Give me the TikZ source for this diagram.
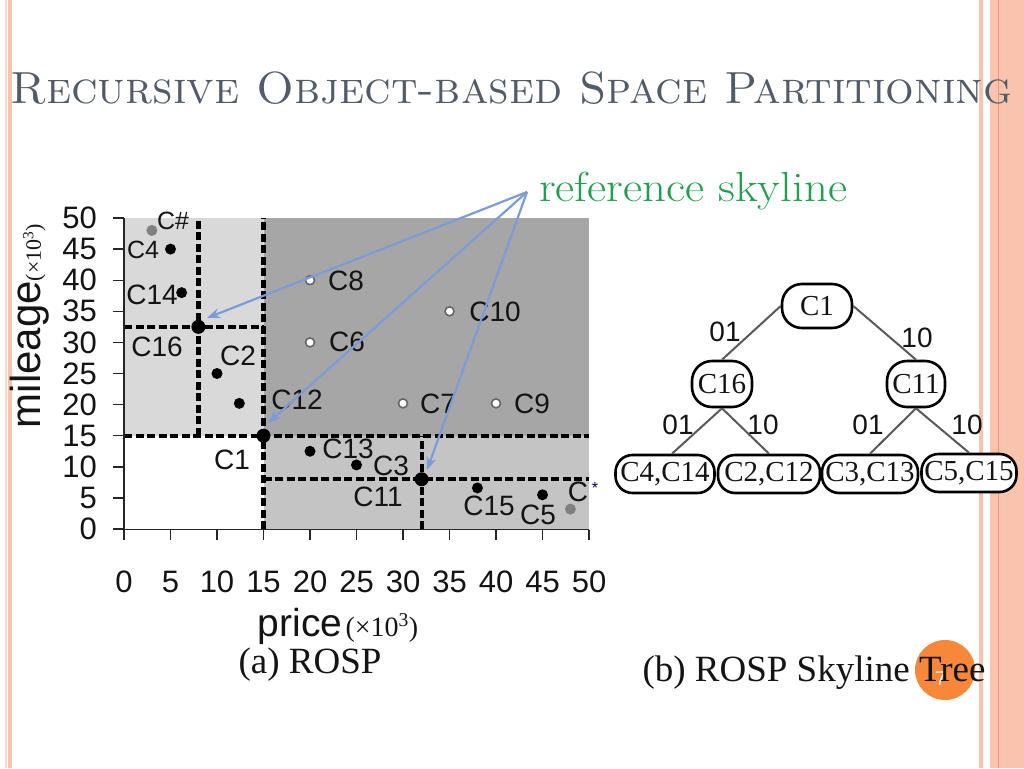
\documentclass[tikz,border=0pt]{standalone}
\usepackage{fontspec}
\newfontfamily\plotsans{Liberation Sans}
\newfontfamily\plotserif{Liberation Serif}
\usetikzlibrary{arrows.meta}
\definecolor{titlecol}{HTML}{515C68}
\definecolor{refgreen}{HTML}{1FA050}
\definecolor{arrowblue}{HTML}{7B9CD8}
\definecolor{salmon}{HTML}{F9C3AE}
\definecolor{salmonlight}{HTML}{FCD6C8}
\definecolor{salmondark}{HTML}{E89B7C}
\definecolor{gA}{HTML}{D9D9D9}
\definecolor{gB}{HTML}{A6A6A6}
\definecolor{gC}{HTML}{C4C4C4}
\definecolor{orangec}{HTML}{F7883A}
\definecolor{txt}{HTML}{141414}
\tikzset{
  dashline/.style={line width=4.2pt, dash pattern=on 8pt off 3.5pt, black},
  axisline/.style={line width=1.4pt, black!85},
  blackdot/.style={fill=black},
  opendot/.style={fill=white, draw=black!60, line width=1.6pt},
  graydot/.style={fill=black!50},
  ptlabel/.style={font=\plotsans\fontsize{28}{28}\selectfont, text=txt, inner sep=0pt},
  ticklabel/.style={font=\plotsans\fontsize{31}{31}\selectfont, text=txt, inner sep=0pt},
  treenode/.style={draw=black, line width=2.6pt, fill=white, rounded corners=17pt,
     font=\plotserif\fontsize{29}{29}\selectfont, text=txt, inner sep=0pt},
  treeedge/.style={draw=black!65, line width=2pt},
  edgelabel/.style={font=\plotsans\fontsize{28}{28}\selectfont, text=txt, inner sep=0pt},
  bluearrow/.style={draw=arrowblue, line width=2.2pt, -{Stealth[length=13pt,width=10pt]}},
}
\begin{document}
\begin{tikzpicture}[x=1pt,y=-1pt]
\useasboundingbox (0,0) rectangle (1024,768);
\fill[white] (0,0) rectangle (1024,768);
% borders
\fill[salmonlight] (5,0) rectangle (7,768);
\fill[salmon] (8,0) rectangle (12,768);
\fill[salmon] (979,0) rectangle (983,768);
\fill[salmon] (990,0) rectangle (1024,768);
\draw[salmondark, line width=1pt] (998,0) -- (998,768);
\draw[salmondark!60, line width=0.6pt] (1007,0) -- (1007,768);
% title
\node[anchor=base west, text=titlecol, inner sep=0pt, font=\fontsize{45}{45}\selectfont] (title) at (10,103) {\textsc{Recursive Object-based Space Partitioning}};
% reference skyline
\node[anchor=base west, text=refgreen, inner sep=0pt, font=\fontsize{42}{42}\selectfont] (ref) at (539,201) {\scalebox{1.115}[1]{reference skyline}};
% plot
\begin{scope}[shift={(124pt,-529pt)}, x=9.3pt, y=6.22pt]
  \fill[gA] (0,15) rectangle (15,50);
  \fill[gB] (15,15) rectangle (50,50);
  \fill[gC] (15,0) rectangle (50,15);
  \draw[dashline] (15,0) -- (15,50);
  \draw[dashline] (0,15) -- (50,15);
  \draw[dashline] (8,15) -- (8,50);
  \draw[dashline] (0,32.5) -- (15,32.5);
  \draw[dashline] (15,8) -- (50,8);
  \draw[dashline] (32,0) -- (32,15);
  \draw[axisline] (0,50) -- (0,-0.1) -- (50,-0.1);
  \foreach \v in {0,5,...,50} {
    \draw[axisline] (-1.2,\v) -- (0,\v);
    \node[ticklabel, anchor=east] at (-2.9,\v) {\v};
    \draw[axisline] (\v,-0.1) -- (\v,-1.8);
    \node[ticklabel] at (\v,-8.5) {\v};
  }
  % points
  \fill[graydot] (3,48) circle (5.5pt);
  \fill[blackdot] (5,45) circle (5.5pt);
  \fill[blackdot] (6.2,38) circle (5.5pt);
  \fill[blackdot] (10,25) circle (5.5pt);
  \fill[blackdot] (12.4,20.2) circle (5.5pt);
  \fill[blackdot] (20,12.5) circle (5.5pt);
  \fill[blackdot] (25,10.3) circle (5.5pt);
  \fill[blackdot] (38,6.6) circle (5.5pt);
  \fill[blackdot] (45,5.5) circle (5.5pt);
  \fill[graydot] (48,3.2) circle (5.5pt);
  \draw[opendot] (20,40) circle (4.5pt);
  \draw[opendot] (20,30) circle (4.5pt);
  \draw[opendot] (35,35) circle (4.5pt);
  \draw[opendot] (30,20.2) circle (4.5pt);
  \draw[opendot] (40,20.2) circle (4.5pt);
  \fill[blackdot] (8,32.5) circle (7pt) coordinate (p16);
  \fill[blackdot] (15,15) circle (7pt) coordinate (p1);
  \fill[blackdot] (32,8) circle (7pt) coordinate (p11);
\end{scope}
% point labels
\node[ptlabel, font=\plotsans\fontsize{25}{25}\selectfont] (lCh) at (173,221) {C\#};
\node[ptlabel, font=\plotsans\fontsize{25}{25}\selectfont] (lC4) at (143,250) {C4};
\node[ptlabel] (lC14) at (152,295) {C14};
\node[ptlabel] (lC16) at (157,347) {C16};
\node[ptlabel] (lC2) at (238,356) {C2};
\node[ptlabel] (lC12) at (297,400) {C12};
\node[ptlabel] (lC1) at (232,460) {C1};
\node[ptlabel] (lC8) at (346,281) {C8};
\node[ptlabel] (lC6) at (347,342) {C6};
\node[ptlabel] (lC10) at (495,312) {C10};
\node[ptlabel] (lC7) at (438,404) {C7};
\node[ptlabel] (lC9) at (532,404) {C9};
\node[ptlabel] (lC13) at (348,449) {C13};
\node[ptlabel] (lC3) at (391,466) {C3};
\node[ptlabel] (lC11) at (378,497) {C11};
\node[ptlabel] (lC15) at (489,506) {C15};
\node[ptlabel] (lC5) at (538,515) {C5};
\node[ptlabel] (lCs) at (578,492) {C};
\node[inner sep=0pt, text=black!70!blue, font=\plotsans\fontsize{16}{16}\selectfont] (lstar) at (595,488) {*};
% axis titles
\node[rotate=90, inner sep=0pt, text=txt] (ylab) at (30,326) {{\plotsans\fontsize{42}{42}\selectfont mileage}{\plotserif\fontsize{22}{22}\selectfont(\texttimes10\textsuperscript{3})}};
\node[anchor=base, inner sep=0pt, text=txt] (xlab) at (338,636) {{\plotsans\fontsize{39}{39}\selectfont price} {\plotserif\fontsize{28}{28}\selectfont(\texttimes10\textsuperscript{3})}};
\node[inner sep=0pt, text=txt, font=\plotserif\fontsize{37}{37}\selectfont] (capa) at (310,665) {(a) ROSP};
% blue arrows
\coordinate (src) at (527,192);
\coordinate (t16) at (207,318);
\coordinate (t1) at (268,423);
\coordinate (t11) at (427,470);
\draw[bluearrow] (src) -- (t16);
\draw[bluearrow] (src) -- (t1);
\draw[bluearrow] (src) -- (t11);
% tree
\node[treenode, minimum width=70pt, minimum height=44pt, rounded corners=20pt] (C1) at (817,306) {C1};
\node[treenode, minimum width=60pt, minimum height=46pt, rounded corners=20pt] (C16) at (722,384) {C16};
\node[treenode, minimum width=58pt, minimum height=46pt, rounded corners=20pt] (C11) at (916,384) {C11};
\node[treenode, minimum width=99pt, minimum height=38pt] (L1) at (665,474) {C4,C14};
\node[treenode, minimum width=102pt, minimum height=38pt] (L2) at (769,474) {C2,C12};
\node[treenode, minimum width=96pt, minimum height=38pt] (L3) at (870,474) {C3,C13};
\node[treenode, minimum width=95pt, minimum height=38pt] (L4) at (969,473) {C5,C15};
\draw[treeedge] (C1.west) -- (C16.north);
\draw[treeedge] (C1.east) -- (C11.north);
\draw[treeedge] (C16.south) -- ([xshift=7pt]L1.north);
\draw[treeedge] (C16.south) -- (L2.north);
\draw[treeedge] (C11.south) -- (L3.north);
\draw[treeedge] (C11.south) -- (L4.north);
\node[edgelabel] (e1) at (725,332) {01};
\node[edgelabel] (e2) at (917,338) {10};
\node[edgelabel] (e3) at (678,425) {01};
\node[edgelabel] (e4) at (763,425) {10};
\node[edgelabel] (e5) at (868,425) {01};
\node[edgelabel] (e6) at (967,425) {10};
% slide number circle and caption b
\fill[orangec] (945,670) circle (30pt);
\node[inner sep=0pt, text=white, font=\plotsans\fontsize{20}{20}\selectfont] (num) at (941,679) {7};
\node[inner sep=0pt, text=txt, font=\plotserif\fontsize{37}{37}\selectfont] (capb) at (814,673) {(b) ROSP Skyline Tree};
\end{tikzpicture}
\end{document}
